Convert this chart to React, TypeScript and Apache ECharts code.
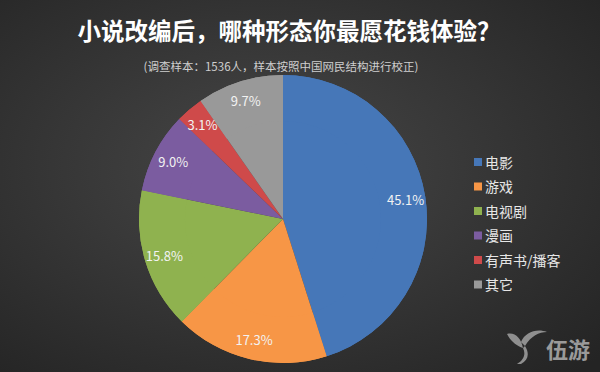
import React, { useEffect, useRef } from "react";
import * as echarts from "echarts";

const categories = ["电影", "游戏", "电视剧", "漫画", "有声书/播客", "其它"];
const values = [45.1, 17.3, 15.8, 9.0, 3.1, 9.7];
const colors = ["#4677b8", "#f79646", "#8fb24f", "#7b5ca0", "#cf4a4a", "#999999"];
const titleText = "小说改编后，哪种形态你最愿花钱体验？";
const subText = "(调查样本：1536人，样本按照中国网民结构进行校正)";

const FONT = "'Noto Sans CJK SC', 'Noto Sans', sans-serif";

const LOGO_D =
  "M0 6 C8 4 14 10 16 20 C10 18 4 14 0 6 Z M14 14 C18 4 30 0 40 4 C32 4 24 8 18 18 Z M16 20 C19 26 17 32 10 36 L14 36 C21 32 23 26 18 18 Z";
let logoRegistered = false;

export default function App() {
  const ref = useRef<HTMLDivElement>(null);
  useEffect(() => {
    document.body.style.margin = "0";
    if (!logoRegistered) {
      echarts.graphic.registerShape("logo", echarts.graphic.extendPath(LOGO_D, {}));
      logoRegistered = true;
    }
    const chart = echarts.init(ref.current!, undefined, { renderer: "svg" });
    const data = categories.map((name, i) => ({
      name,
      value: values[i],
      itemStyle: { color: colors[i] },
    }));
    chart.setOption({
      animation: false,
      backgroundColor: {
        type: "radial",
        x: 0.45,
        y: 0.45,
        r: 0.75,
        colorStops: [
          { offset: 0, color: "#474747" },
          { offset: 1, color: "#242424" },
        ],
      },
      textStyle: { fontFamily: FONT },
      title: [
        {
          text: titleText,
          left: 284,
          top: 13,
          textAlign: "center",
          textStyle: { color: "#ffffff", fontSize: 23.5, fontWeight: "bold", fontFamily: FONT },
        },
        {
          text: subText,
          left: 276,
          top: 55,
          textAlign: "center",
          textStyle: { color: "#cfcfcf", fontSize: 11.5, fontWeight: "normal", fontFamily: FONT },
        },
      ],
      legend: {
        orient: "vertical",
        left: 469,
        top: 150,
        icon: "rect",
        itemWidth: 8,
        itemHeight: 8,
        itemGap: 10.5,
        data: categories,
        textStyle: { color: "#e6e6e6", fontSize: 14, fontFamily: FONT, padding: [0, 0, 0, -2] },
      },
      series: [
        {
          type: "pie",
          center: [283, 219],
          radius: [0, 144],
          startAngle: 90,
          clockwise: true,
          silent: true,
          label: { show: false },
          labelLine: { show: false },
          data,
        },
        {
          type: "pie",
          center: [283, 219],
          radius: [98, 144],
          startAngle: 90,
          clockwise: true,
          silent: true,
          label: {
            show: true,
            position: "inside",
            formatter: (p: any) => p.value.toFixed(1) + "%",
            color: "#f2f2f2",
            fontSize: 13,
            fontFamily: FONT,
          },
          labelLine: { show: false },
          data,
        },
      ],
      graphic: [
        {
          type: "logo",
          x: 507,
          y: 328,
          scaleX: 1,
          scaleY: 1,
          style: { fill: "#8f8f8f" },
        },
        {
          type: "text",
          right: 10,
          top: 337,
          style: {
            text: "伍游",
            fill: "#9a9a9a",
            font: "bold 22px 'Noto Sans CJK SC'",
          },
        },
      ],
    });
    return () => chart.dispose();
  }, []);
  return <div ref={ref} style={{ width: 600, height: 372 }} />;
}
